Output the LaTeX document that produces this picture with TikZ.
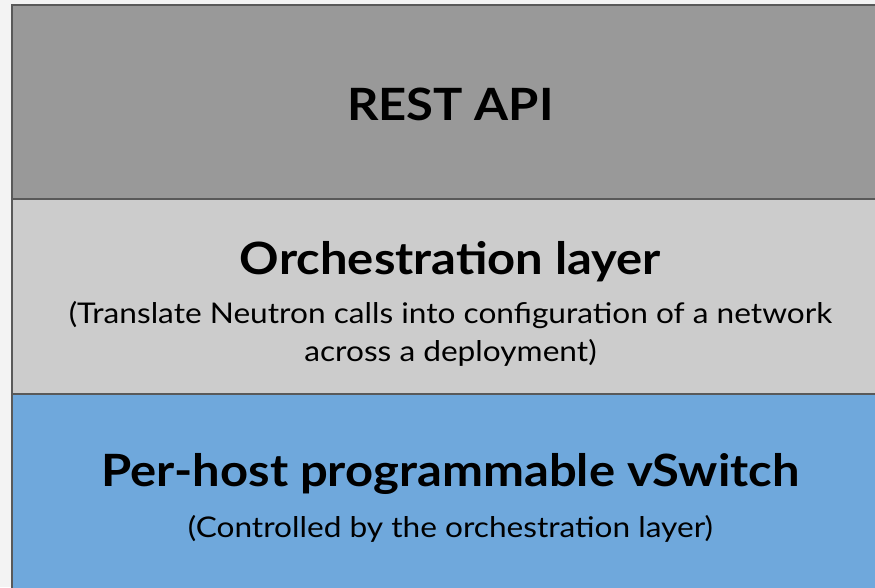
\documentclass[tikz,border=0pt]{standalone}
\usepackage{fontspec}
\setmainfont{Lato}
\newfontfamily\headfont{Lato}[FakeStretch=1.10]
\newfontfamily\notefont{Lato}[FakeStretch=1.11]
\usetikzlibrary{positioning}
\definecolor{pagebg}{HTML}{F3F3F3}
\definecolor{borderline}{HTML}{595959}
\definecolor{restgray}{HTML}{999999}
\definecolor{orchgray}{HTML}{CCCCCC}
\definecolor{vswitchblue}{HTML}{6FA8DC}
\begin{document}
\begin{tikzpicture}[
        x=1pt, y=1pt,
        layer/.style={draw=borderline, line width=2.4pt, rectangle, minimum width=877pt, outer sep=0pt, inner sep=0pt},
        heading/.style={anchor=base, font=\headfont\fontsize{44.5}{48}\selectfont\bfseries, text=black},
        note/.style={anchor=base, font=\notefont\fontsize{28.5}{32}\selectfont, text=black}
    ]
    
    \fill[pagebg] (0,0) rectangle (875,-587);
    \useasboundingbox (0,0) rectangle (875,-587);
    
    \begin{scope}
    \clip (0,0) rectangle (875,-587);
    \node[layer, fill=restgray, minimum height=193.8pt] (rest) at (450.5,-102.1) {};
    \node[layer, fill=orchgray, minimum height=195pt, below=0pt of rest] (orch) {};
    \node[layer, fill=vswitchblue, minimum height=200pt, below=0pt of orch] (vswitch) {};
    \end{scope}
    
    \node[heading] (restTitle) at (450.5,-120) {REST API};
    
    \node[heading] (orchTitle) at (450.5,-274) {Orchestration layer};
    \node[note] (orchNoteA) at (450.5,-323) {(Translate Neutron calls into configuration of a network};
    \node[note] (orchNoteB) at (450.5,-361.5) {across a deployment)};
    
    \node[heading] (vswitchTitle) at (450.5,-486) {Per-host programmable vSwitch};
    \node[note] (vswitchNote) at (450.5,-537) {(Controlled by the orchestration layer)};
    
\end{tikzpicture}
\end{document}
